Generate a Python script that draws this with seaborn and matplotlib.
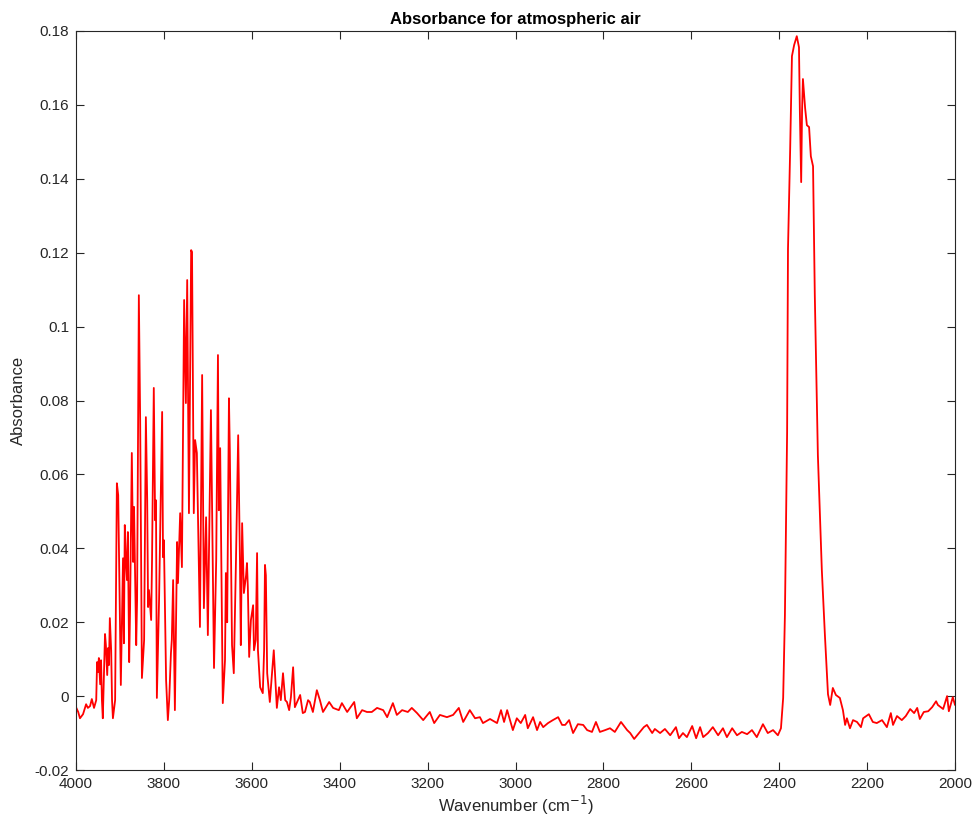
import matplotlib
matplotlib.use("Agg")
import matplotlib.pyplot as plt
import seaborn as sns
import pandas as pd

wavenumber = [
    4000, 3995, 3991, 3984, 3977, 3973, 3968, 3964, 3959, 3954,
    3952, 3950, 3948, 3945, 3943, 3941, 3939, 3934, 3932, 3929,
    3927, 3925, 3923, 3920, 3918, 3916, 3911, 3907, 3904, 3902,
    3898, 3893, 3891, 3889, 3886, 3884, 3882, 3879, 3877, 3873,
    3870, 3868, 3866, 3863, 3861, 3857, 3854, 3850, 3845, 3841,
    3838, 3836, 3834, 3829, 3827, 3823, 3820, 3818, 3816, 3811,
    3804, 3802, 3800, 3795, 3791, 3788, 3784, 3782, 3779, 3775,
    3770, 3768, 3763, 3759, 3754, 3750, 3747, 3743, 3738, 3736,
    3732, 3729, 3725, 3718, 3713, 3709, 3704, 3700, 3693, 3686,
    3681, 3677, 3675, 3672, 3666, 3661, 3659, 3656, 3652, 3650,
    3645, 3641, 3636, 3631, 3627, 3625, 3622, 3618, 3613, 3611,
    3609, 3606, 3602, 3597, 3595, 3591, 3588, 3586, 3581, 3575,
    3572, 3570, 3568, 3565, 3559, 3554, 3550, 3547, 3543, 3538,
    3534, 3529, 3524, 3520, 3515, 3511, 3506, 3502, 3497, 3490,
    3484, 3479, 3472, 3468, 3461, 3452, 3445, 3438, 3424, 3415,
    3402, 3395, 3383, 3367, 3361, 3349, 3338, 3327, 3315, 3301,
    3292, 3279, 3270, 3258, 3245, 3236, 3224, 3210, 3195, 3185,
    3172, 3156, 3142, 3129, 3119, 3104, 3092, 3081, 3074, 3058,
    3042, 3033, 3026, 3019, 3006, 2997, 2988, 2978, 2972, 2960,
    2951, 2944, 2937, 2926, 2915, 2903, 2894, 2887, 2878, 2869,
    2858, 2846, 2837, 2826, 2817, 2808, 2796, 2785, 2774, 2760,
    2746, 2739, 2730, 2717, 2708, 2701, 2689, 2683, 2671, 2660,
    2648, 2635, 2628, 2619, 2610, 2598, 2589, 2580, 2573, 2562,
    2551, 2539, 2528, 2519, 2507, 2496, 2485, 2473, 2462, 2451,
    2437, 2426, 2414, 2403, 2396, 2391, 2387, 2382, 2380, 2375,
    2371, 2366, 2360, 2355, 2353, 2350, 2348, 2346, 2341, 2337,
    2332, 2328, 2323, 2319, 2312, 2303, 2296, 2289, 2284, 2278,
    2271, 2262, 2255, 2250, 2246, 2239, 2232, 2223, 2214, 2209,
    2196, 2187, 2178, 2166, 2155, 2146, 2141, 2132, 2121, 2112,
    2102, 2093, 2086, 2080, 2071, 2061, 2052, 2043, 2039, 2027,
    2018, 2014, 2005, 2000,
]

absorbance = [
    -0.0030, -0.0043, -0.0060, -0.0049, -0.0022, -0.0032, -0.0027, -0.0008, -0.0032, -0.0011,
    0.0092, 0.0065, 0.0103, 0.0032, 0.0097, -0.0011, -0.0060, 0.0168, 0.0138, 0.0057,
    0.0130, 0.0084, 0.0211, 0.0124, -0.0011, -0.0060, -0.0011, 0.0576, 0.0544, 0.0368,
    0.0030, 0.0373, 0.0143, 0.0463, 0.0355, 0.0314, 0.0444, 0.0092, 0.0233, 0.0658,
    0.0363, 0.0512, 0.0368, 0.0138, 0.0260, 0.1085, 0.0747, 0.0049, 0.0152, 0.0755,
    0.0530, 0.0241, 0.0287, 0.0206, 0.0368, 0.0834, 0.0476, 0.0530, -0.0005, 0.0260,
    0.0769, 0.0376, 0.0422, 0.0043, -0.0065, -0.0011, 0.0116, 0.0152, 0.0314, -0.0038,
    0.0417, 0.0306, 0.0495, 0.0349, 0.1072, 0.0793, 0.1126, 0.0495, 0.1207, 0.1202,
    0.0495, 0.0693, 0.0658, 0.0187, 0.0869, 0.0238, 0.0484, 0.0165, 0.0774, 0.0076,
    0.0368, 0.0923, 0.0503, 0.0671, -0.0019, 0.0097, 0.0333, 0.0200, 0.0806, 0.0666,
    0.0138, 0.0062, 0.0368, 0.0706, 0.0368, 0.0138, 0.0468, 0.0279, 0.0327, 0.0360,
    0.0295, 0.0106, 0.0206, 0.0246, 0.0124, 0.0152, 0.0387, 0.0124, 0.0024, 0.0008,
    0.0124, 0.0355, 0.0327, 0.0062, -0.0016, 0.0062, 0.0124, 0.0057, -0.0032, 0.0024,
    -0.0011, 0.0062, -0.0011, -0.0016, -0.0038, -0.0003, 0.0078, -0.0030, -0.0016, 0.0003,
    -0.0046, -0.0043, -0.0011, -0.0016, -0.0043, 0.0016, -0.0011, -0.0043, -0.0016, -0.0032,
    -0.0038, -0.0019, -0.0043, -0.0016, -0.0060, -0.0038, -0.0043, -0.0043, -0.0032, -0.0038,
    -0.0057, -0.0019, -0.0051, -0.0038, -0.0043, -0.0032, -0.0046, -0.0065, -0.0043, -0.0073,
    -0.0051, -0.0057, -0.0051, -0.0032, -0.0070, -0.0038, -0.0060, -0.0057, -0.0073, -0.0062,
    -0.0073, -0.0038, -0.0070, -0.0038, -0.0092, -0.0060, -0.0073, -0.0051, -0.0087, -0.0057,
    -0.0092, -0.0070, -0.0084, -0.0073, -0.0065, -0.0057, -0.0078, -0.0078, -0.0065, -0.0100,
    -0.0076, -0.0078, -0.0092, -0.0097, -0.0070, -0.0097, -0.0092, -0.0087, -0.0097, -0.0070,
    -0.0092, -0.0100, -0.0116, -0.0097, -0.0084, -0.0078, -0.0100, -0.0089, -0.0100, -0.0089,
    -0.0106, -0.0084, -0.0114, -0.0100, -0.0111, -0.0081, -0.0114, -0.0084, -0.0111, -0.0100,
    -0.0084, -0.0106, -0.0087, -0.0111, -0.0087, -0.0106, -0.0097, -0.0103, -0.0092, -0.0111,
    -0.0076, -0.0100, -0.0092, -0.0106, -0.0087, -0.0005, 0.0219, 0.0714, 0.1210, 0.1483,
    0.1732, 0.1762, 0.1786, 0.1756, 0.1583, 0.1391, 0.1583, 0.1670, 0.1591, 0.1545,
    0.1540, 0.1461, 0.1434, 0.1085, 0.0652, 0.0341, 0.0165, 0.0005, -0.0024, 0.0022,
    0.0003, -0.0005, -0.0038, -0.0078, -0.0060, -0.0087, -0.0065, -0.0070, -0.0084, -0.0060,
    -0.0049, -0.0070, -0.0073, -0.0065, -0.0084, -0.0046, -0.0078, -0.0054, -0.0065, -0.0054,
    -0.0035, -0.0046, -0.0032, -0.0062, -0.0043, -0.0041, -0.0030, -0.0014, -0.0024, -0.0035,
    0.0000, -0.0041, -0.0003, -0.0024,
]

x_ticks = [4000, 3800, 3600, 3400, 3200, 3000, 2800, 2600, 2400, 2200, 2000]
y_ticks = [-0.02, 0.0, 0.02, 0.04, 0.06, 0.08, 0.10, 0.12, 0.14, 0.16, 0.18]
y_tick_labels = ["-0.02", "0", "0.02", "0.04", "0.06", "0.08", "0.1", "0.12", "0.14", "0.16", "0.18"]

sns.set_style("white")
plt.rcParams["font.family"] = ["Liberation Sans", "DejaVu Sans"]

df = pd.DataFrame({"Wavenumber": wavenumber, "Absorbance": absorbance})

fig = plt.figure(figsize=(9.76, 8.16), dpi=100)
ax = fig.add_axes([76 / 976, 1 - 770 / 816, (955 - 76) / 976, (770 - 31) / 816])

sns.lineplot(data=df, x="Wavenumber", y="Absorbance", ax=ax, color="#ff0000",
             linewidth=1.3, estimator=None, sort=False)

ax.set_xlim(4000, 2000)
ax.set_ylim(-0.02, 0.18)
ax.set_xticks(x_ticks)
ax.set_xticklabels([str(t) for t in x_ticks])
ax.set_yticks(y_ticks)
ax.set_yticklabels(y_tick_labels)

axcol = "#262626"
for s in ax.spines.values():
    s.set_visible(True)
    s.set_color(axcol)
    s.set_linewidth(0.8)
ax.tick_params(direction="in", length=6, width=0.8, colors=axcol, labelsize=11,
               top=True, right=True, bottom=True, left=True, pad=5)

ax.set_xlabel("Wavenumber (cm$^{-1}$)", fontsize=12, color=axcol, labelpad=2)
ax.set_ylabel("Absorbance", fontsize=12, color=axcol, labelpad=6)
ax.set_title("Absorbance for atmospheric air", fontsize=12, fontweight="bold", color="black", pad=5)

fig.savefig("out.png", dpi=100)
